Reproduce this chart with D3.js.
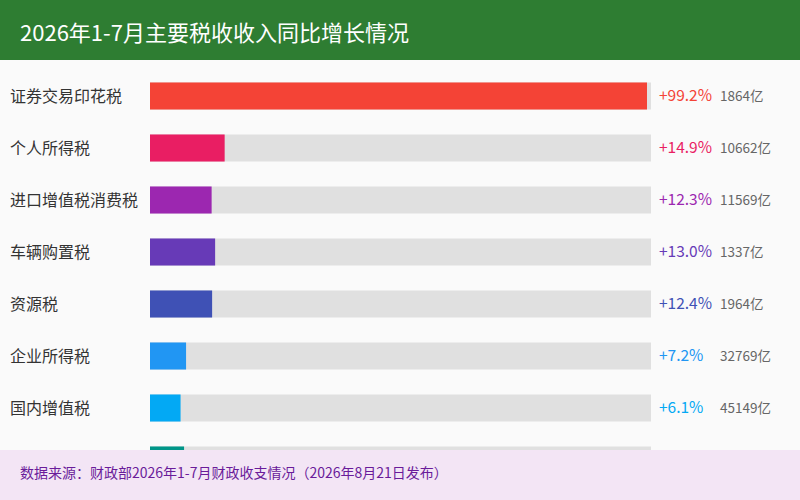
<!DOCTYPE html>
<html><head><meta charset="utf-8">
<script src="https://cdn.jsdelivr.net/npm/d3@7"></script>
<style>body{margin:0;background:#fafafa;font-family:"Noto Sans CJK SC","Noto Sans",sans-serif;}</style>
</head><body><svg id="c" width="800" height="500"></svg>
<script>
const categories=["证券交易印花税","个人所得税","进口增值税消费税","车辆购置税","资源税","企业所得税","国内增值税","国内消费税"];
const growth=[99.2,14.9,12.3,13.0,12.4,7.2,6.1,6.8];
const amounts=["1864亿","10662亿","11569亿","1337亿","1964亿","32769亿","45149亿","9500亿"];
const colors=["#f44336","#e91e63","#9c27b0","#673ab7","#3f51b5","#2196f3","#03a9f4","#009688"];
const title="2026年1-7月主要税收收入同比增长情况";
const source="数据来源：财政部2026年1-7月财政收支情况（2026年8月21日发布）";

const svg=d3.select("#c");
svg.append("rect").attr("width",800).attr("height",500).attr("fill","#fafafa");
svg.append("clipPath").attr("id","clip").append("rect").attr("width",800).attr("height",450);
const x=d3.scaleLinear().domain([0,100]).range([150,651]);
const y=d3.scaleBand().domain(categories).range([70,486]).paddingInner(0.48).paddingOuter(0.24);
const g=svg.append("g").attr("clip-path","url(#clip)");
categories.forEach((c,i)=>{
  const yy=y(c),h=y.bandwidth(),cy=yy+h/2;
  if(cy>450){
    g.append("rect").attr("x",x(0)).attr("y",yy).attr("width",x(100)-x(0)).attr("height",h).attr("fill","#e0e0e0");
    g.append("rect").attr("x",x(0)).attr("y",yy).attr("width",x(growth[i])-x(0)).attr("height",h).attr("fill",colors[i]);
    return;
  }
  g.append("text").attr("x",10).attr("y",cy).attr("dy","0.35em").attr("font-size",16).attr("fill","#333").text(c);
  g.append("rect").attr("x",x(0)).attr("y",yy).attr("width",x(100)-x(0)).attr("height",h).attr("fill","#e0e0e0");
  g.append("rect").attr("x",x(0)).attr("y",yy).attr("width",x(growth[i])-x(0)).attr("height",h).attr("fill",colors[i]);
  g.append("text").attr("x",659).attr("y",cy).attr("dy","0.35em").attr("font-size",15.5).attr("fill",colors[i]).text("+"+growth[i].toFixed(1)+"%");
  g.append("text").attr("x",720).attr("y",cy).attr("dy","0.35em").attr("font-size",13.5).attr("fill","#666").text(amounts[i]);
});
svg.append("rect").attr("width",800).attr("height",60).attr("fill","#2e7d32");
svg.append("text").attr("x",20).attr("y",33).attr("dy","0.35em").attr("font-size",22).attr("fill","#fff").text(title);
svg.append("rect").attr("y",450).attr("width",800).attr("height",50).attr("fill","#f3e5f5");
svg.append("text").attr("x",20).attr("y",473).attr("dy","0.35em").attr("font-size",14).attr("fill","#6a1b9a").text(source);
</script></body></html>
